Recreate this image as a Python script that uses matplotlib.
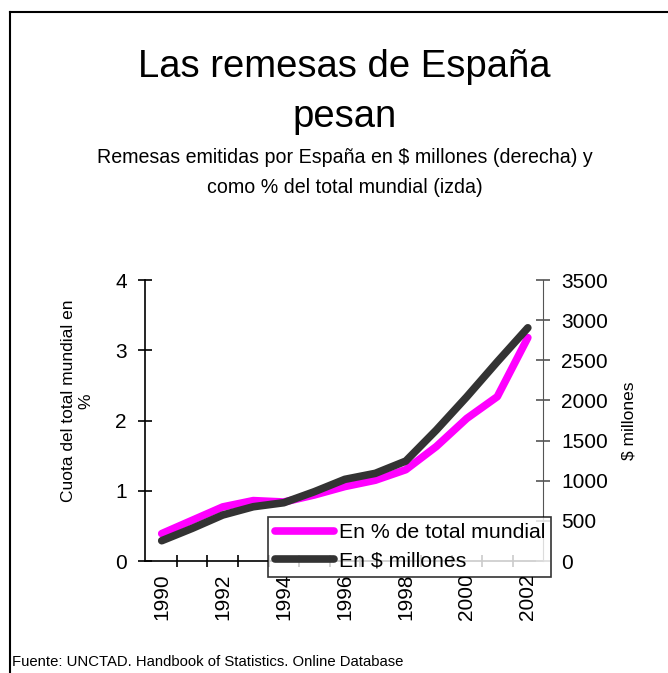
import matplotlib.pyplot as plt
from matplotlib.lines import Line2D

plt.rcParams['font.family'] = ['Liberation Sans', 'DejaVu Sans']

years = [1990, 1991, 1992, 1993, 1994, 1995, 1996, 1997, 1998, 1999, 2000, 2001, 2002]
pct_mundial = [0.39, 0.58, 0.77, 0.86, 0.84, 0.94, 1.06, 1.15, 1.30, 1.63, 2.03, 2.34, 3.18]
millones = [253, 407, 573, 676, 726, 863, 1017, 1092, 1245, 1631, 2046, 2482, 2905]
year_labels = [1990, 1992, 1994, 1996, 1998, 2000, 2002]

fig = plt.figure(figsize=(6.68, 6.73), dpi=100)
ax = fig.add_axes([0.217, 0.1664, 0.596, 0.4175])
ax2 = ax.twinx()

l1, = ax.plot(years, pct_mundial, color='#ff00ff', lw=5.5, solid_capstyle='round',
              label='En % de total mundial')
l2, = ax2.plot(years, millones, color='#333333', lw=5.5, solid_capstyle='round',
               label='En $ millones')

ax.set_xlim(1989.45, 2002.5)
ax.set_ylim(0, 4)
ax2.set_ylim(0, 3500)
ax.set_yticks([0, 1, 2, 3, 4])
ax2.set_yticks(range(0, 3501, 500))
ax.set_xticks(year_labels)
ax.set_xticklabels([str(y) for y in year_labels], rotation=90, fontsize=15)
ax.set_xticks([y + 0.5 for y in years[:-1]], minor=True)
ax.tick_params(axis='x', which='major', length=0, pad=9)
ax.tick_params(axis='x', which='minor', length=8, direction='inout', width=1.2)
ax.tick_params(axis='y', length=10, direction='inout', labelsize=15, width=1.2, pad=8)
ax2.tick_params(axis='y', length=10, direction='inout', labelsize=15, width=1.2, pad=8,
                colors='#555555', labelcolor='black')

for a in (ax, ax2):
    a.spines['top'].set_visible(False)
ax.spines['right'].set_visible(False)
ax2.spines['left'].set_visible(False)
ax2.spines['bottom'].set_visible(False)
ax2.spines['right'].set_color('#555555')
ax.spines['left'].set_linewidth(1.2)
ax.spines['bottom'].set_linewidth(1.2)

ax.set_ylabel('Cuota del total mundial en\n%', fontsize=12.5, linespacing=1.2)
ax.yaxis.set_label_coords(-0.13, 0.57)
ax2.set_ylabel('$ millones', fontsize=12.5, labelpad=10)

leg = ax2.legend(handles=[l1, l2], loc='lower left', bbox_to_anchor=(0.31, -0.057),
                 fontsize=15.3, frameon=True, fancybox=False, handlelength=2.8,
                 handletextpad=0.2, borderpad=0.3, labelspacing=0.45, borderaxespad=0)
leg.get_frame().set_edgecolor('black')
leg.get_frame().set_linewidth(1.2)

fig.text(0.516, 0.9, 'Las remesas de España', ha='center', va='center', fontsize=27.5)
fig.text(0.516, 0.826, 'pesan', ha='center', va='center', fontsize=27.5)
fig.text(0.516, 0.766, 'Remesas emitidas por España en $ millones (derecha) y',
         ha='center', va='center', fontsize=14.1)
fig.text(0.516, 0.721, 'como % del total mundial (izda)', ha='center', va='center', fontsize=14.1)
fig.text(0.018, 0.016, 'Fuente: UNCTAD. Handbook of Statistics. Online Database',
         ha='left', va='center', fontsize=10.7)

fig.add_artist(Line2D([0.015, 0.015], [0, 0.982], color='black', lw=1.5))
fig.add_artist(Line2D([0.015, 1.0], [0.982, 0.982], color='black', lw=1.5))

fig.savefig('out.png', dpi=100)
